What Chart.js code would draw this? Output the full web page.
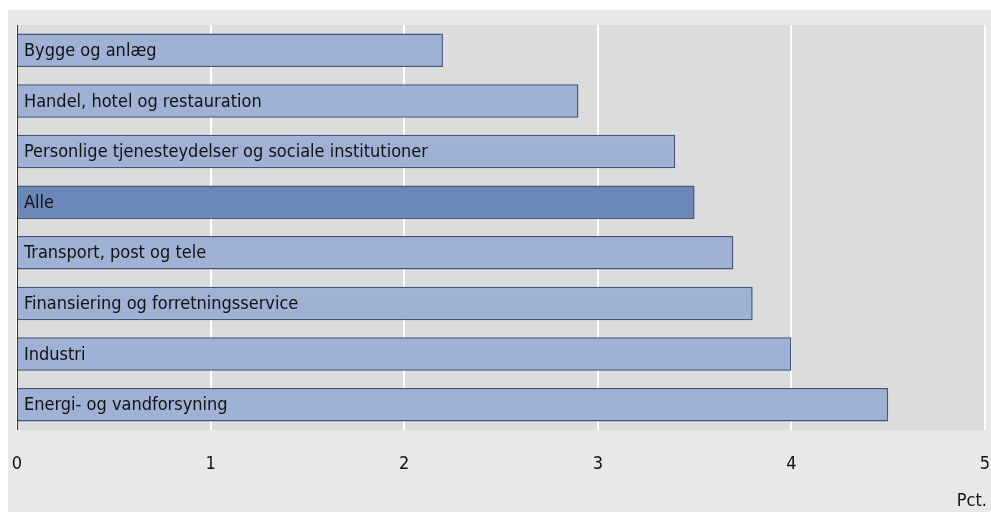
<!DOCTYPE html>
<html>
<head>
<meta charset="utf-8">
<script src="https://cdn.jsdelivr.net/npm/chart.js@4.4.0/dist/chart.umd.min.js"></script>
<style>
html,body{margin:0;padding:0;background:#ffffff;}
#wrap{width:991px;height:512px;position:relative;}
</style>
</head>
<body>
<div id="wrap"><canvas id="c" width="991" height="512"></canvas></div>
<script>
const categories = [
  "Bygge og anlæg",
  "Handel, hotel og restauration",
  "Personlige tjenesteydelser og sociale institutioner",
  "Alle",
  "Transport, post og tele",
  "Finansiering og forretningsservice",
  "Industri",
  "Energi- og vandforsyning"
];
const values = [2.2, 2.9, 3.4, 3.5, 3.7, 3.8, 4.0, 4.5];
const xTicks = [0, 1, 2, 3, 4, 5];
const unitLabel = "Pct.";
const highlight = "Alle";

const FONT = "'Liberation Sans Narrow', 'DejaVu Sans Condensed', 'Liberation Sans', sans-serif";

const fills = categories.map(c => c === highlight ? "#6b87b7" : "#9fb2d6");

const framePlugin = {
  id: "frame",
  beforeDraw(chart) {
    const ctx = chart.ctx;
    const a = chart.chartArea;
    ctx.save();
    ctx.fillStyle = "#e8e8e8";
    ctx.fillRect(8, 10, chart.width - 8, chart.height - 10);
    ctx.fillStyle = "#dcdcdc";
    ctx.fillRect(a.left, a.top, a.right - a.left, a.bottom - a.top);
    ctx.restore();
  },
  afterDatasetsDraw(chart) {
    const ctx = chart.ctx;
    const a = chart.chartArea;
    const meta = chart.getDatasetMeta(0);
    ctx.save();
    ctx.strokeStyle = "#333";
    ctx.lineWidth = 1;
    ctx.beginPath();
    ctx.moveTo(a.left + 0.5, a.top);
    ctx.lineTo(a.left + 0.5, a.bottom);
    ctx.stroke();
    ctx.fillStyle = "#111";
    ctx.font = "18px " + FONT;
    ctx.textBaseline = "middle";
    ctx.textAlign = "left";
    meta.data.forEach((bar, i) => {
      ctx.fillText(categories[i], a.left + 7, bar.y + 1);
    });
    ctx.textAlign = "right";
    ctx.textBaseline = "alphabetic";
    ctx.fillText(unitLabel, 987, 506);
    ctx.restore();
  }
};

new Chart(document.getElementById("c"), {
  type: "bar",
  data: {
    labels: categories,
    datasets: [{
      data: values,
      backgroundColor: fills,
      borderColor: "#44557a",
      borderWidth: 1.5,
      borderSkipped: "start",
      barPercentage: 0.66,
      categoryPercentage: 1.0
    }]
  },
  options: {
    indexAxis: "y",
    responsive: false,
    animation: false,
    devicePixelRatio: 1,
    layout: { padding: { left: 17, top: 25, right: 6, bottom: 0 } },
    plugins: { legend: { display: false }, tooltip: { enabled: false } },
    scales: {
      y: { display: false },
      x: {
        min: 0,
        max: 5,
        afterFit(s) { s.height = 82; },
        afterBuildTicks(s) { s.ticks = xTicks.map(v => ({ value: v })); },
        grid: { color: "#ffffff", lineWidth: 2, drawTicks: true, tickLength: 24, tickColor: "rgba(0,0,0,0)" },
        border: { display: false },
        ticks: {
          padding: 0,
          color: "#111",
          font: { family: FONT, size: 18 },
          maxRotation: 0,
          autoSkip: false
        }
      }
    }
  },
  plugins: [framePlugin]
});
</script>
</body>
</html>
